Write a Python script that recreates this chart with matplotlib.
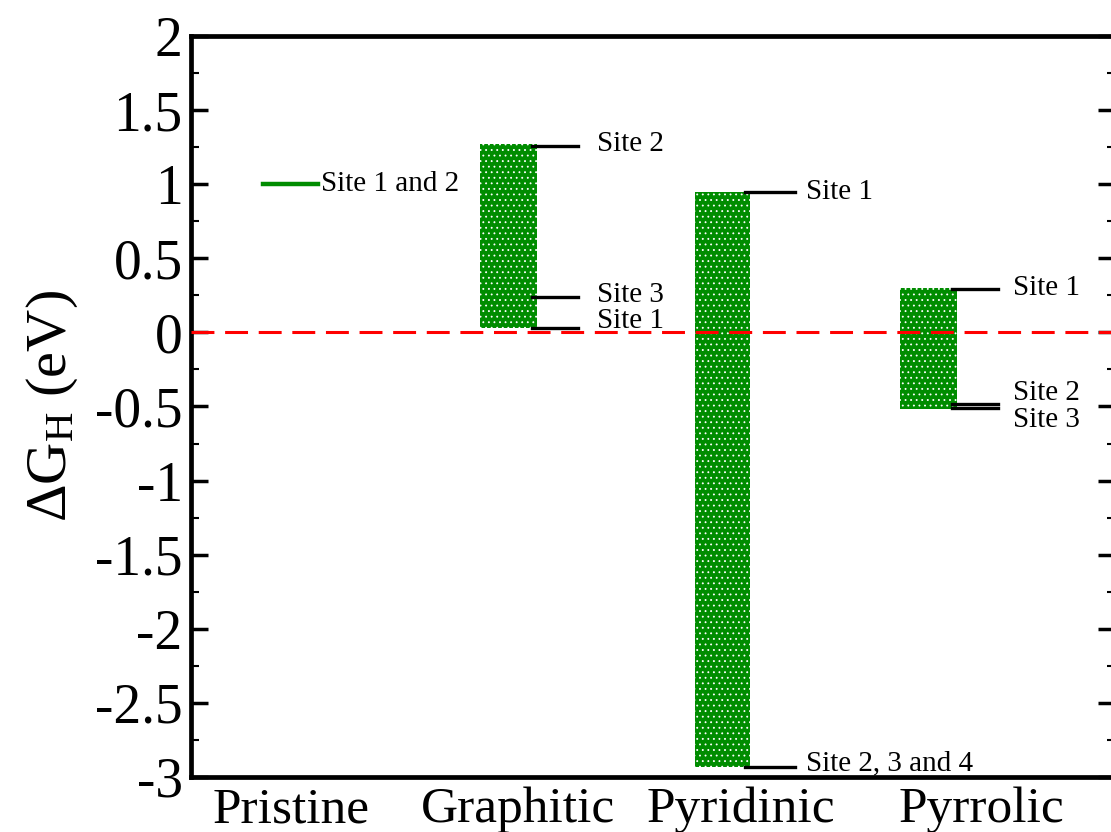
import matplotlib
matplotlib.use("Agg")
import matplotlib.pyplot as plt
from matplotlib.ticker import MultipleLocator, FuncFormatter

plt.rcParams['font.family'] = ['Liberation Serif', 'DejaVu Serif']
plt.rcParams['mathtext.fontset'] = 'custom'
plt.rcParams['mathtext.rm'] = 'Liberation Serif'
plt.rcParams['mathtext.it'] = 'Liberation Serif:italic'
plt.rcParams['hatch.linewidth'] = 0.6

# categories and their label positions
categories = ['Pristine', 'Graphitic', 'Pyridinic', 'Pyrrolic']
cat_pos = [1.013, 2.004, 2.978, 4.026]

# range bars (doped cases): left edge, width, low, high
bar_names = ['Graphitic', 'Pyridinic', 'Pyrrolic']
bar_left = [1.838, 2.777, 3.672]
bar_width = [0.249, 0.240, 0.249]
bar_low = [0.03, -2.93, -0.52]
bar_high = [1.27, 0.95, 0.30]

# site energies per bar
site_vals = [[1.26, 0.24, 0.03],
             [0.95, -2.93],
             [0.29, -0.48, -0.51]]
site_labels = [['Site 2', 'Site 3', 'Site 1'],
               ['Site 1', 'Site 2, 3 and 4'],
               ['Site 1', 'Site 2', 'Site 3']]
# label y positions (shifted so text does not overlap)
site_label_y = [[1.27, 0.25, 0.08],
                [0.95, -2.91],
                [0.30, -0.41, -0.59]]
site_label_x = [2.35, 3.261, 4.166]
site_line_end = [2.266, 3.214, 4.100]

# pristine
pristine_val = 1.0
pristine_label = 'Site 1 and 2'

fig = plt.figure(figsize=(11.11, 8.32), dpi=100)
ax = fig.add_axes([191 / 1111, 1 - 777 / 832, (1115 - 191) / 1111, (777 - 36) / 832])

green = '#008c00'
for i in range(len(bar_names)):
    ax.bar(bar_left[i], bar_high[i] - bar_low[i], bottom=bar_low[i],
           width=bar_width[i], align='edge', color=green, edgecolor='white',
           hatch='...', linewidth=0, zorder=2)
    right = bar_left[i] + bar_width[i]
    for v, lab, ly in zip(site_vals[i], site_labels[i], site_label_y[i]):
        ax.plot([right - 0.02, site_line_end[i]], [v, v], color='black', lw=2.4, zorder=3)
        ax.text(site_label_x[i], ly, lab, fontsize=21, va='center', ha='left')

ax.plot([0.891, 1.131], [pristine_val, pristine_val], color=green, lw=3.2, zorder=3)
ax.text(1.145, pristine_val, pristine_label, fontsize=21, va='center', ha='left')

ax.axhline(0, color='red', lw=2.2, dashes=(7.5, 3.5), zorder=4)

ax.set_xlim(0.576, 4.611)
ax.set_ylim(-3, 2)
ax.set_xticks(cat_pos)
ax.set_xticklabels(categories)
ax.tick_params(axis='x', length=0, pad=7, labelsize=37)

ax.yaxis.set_major_locator(MultipleLocator(0.5))
ax.yaxis.set_minor_locator(MultipleLocator(0.25))
ax.yaxis.set_major_formatter(FuncFormatter(lambda v, p: '%g' % v))
ax.tick_params(axis='y', which='major', direction='in', length=12, width=2.5,
               labelsize=40, right=True, pad=6)
ax.tick_params(axis='y', which='minor', direction='in', length=6, width=1.5, right=True)

for s in ax.spines.values():
    s.set_linewidth(3.4)

ax.set_ylabel(r'$\Delta$G$_\mathrm{H}$ (eV)', fontsize=42, labelpad=11)

fig.savefig('out.png', dpi=100)
